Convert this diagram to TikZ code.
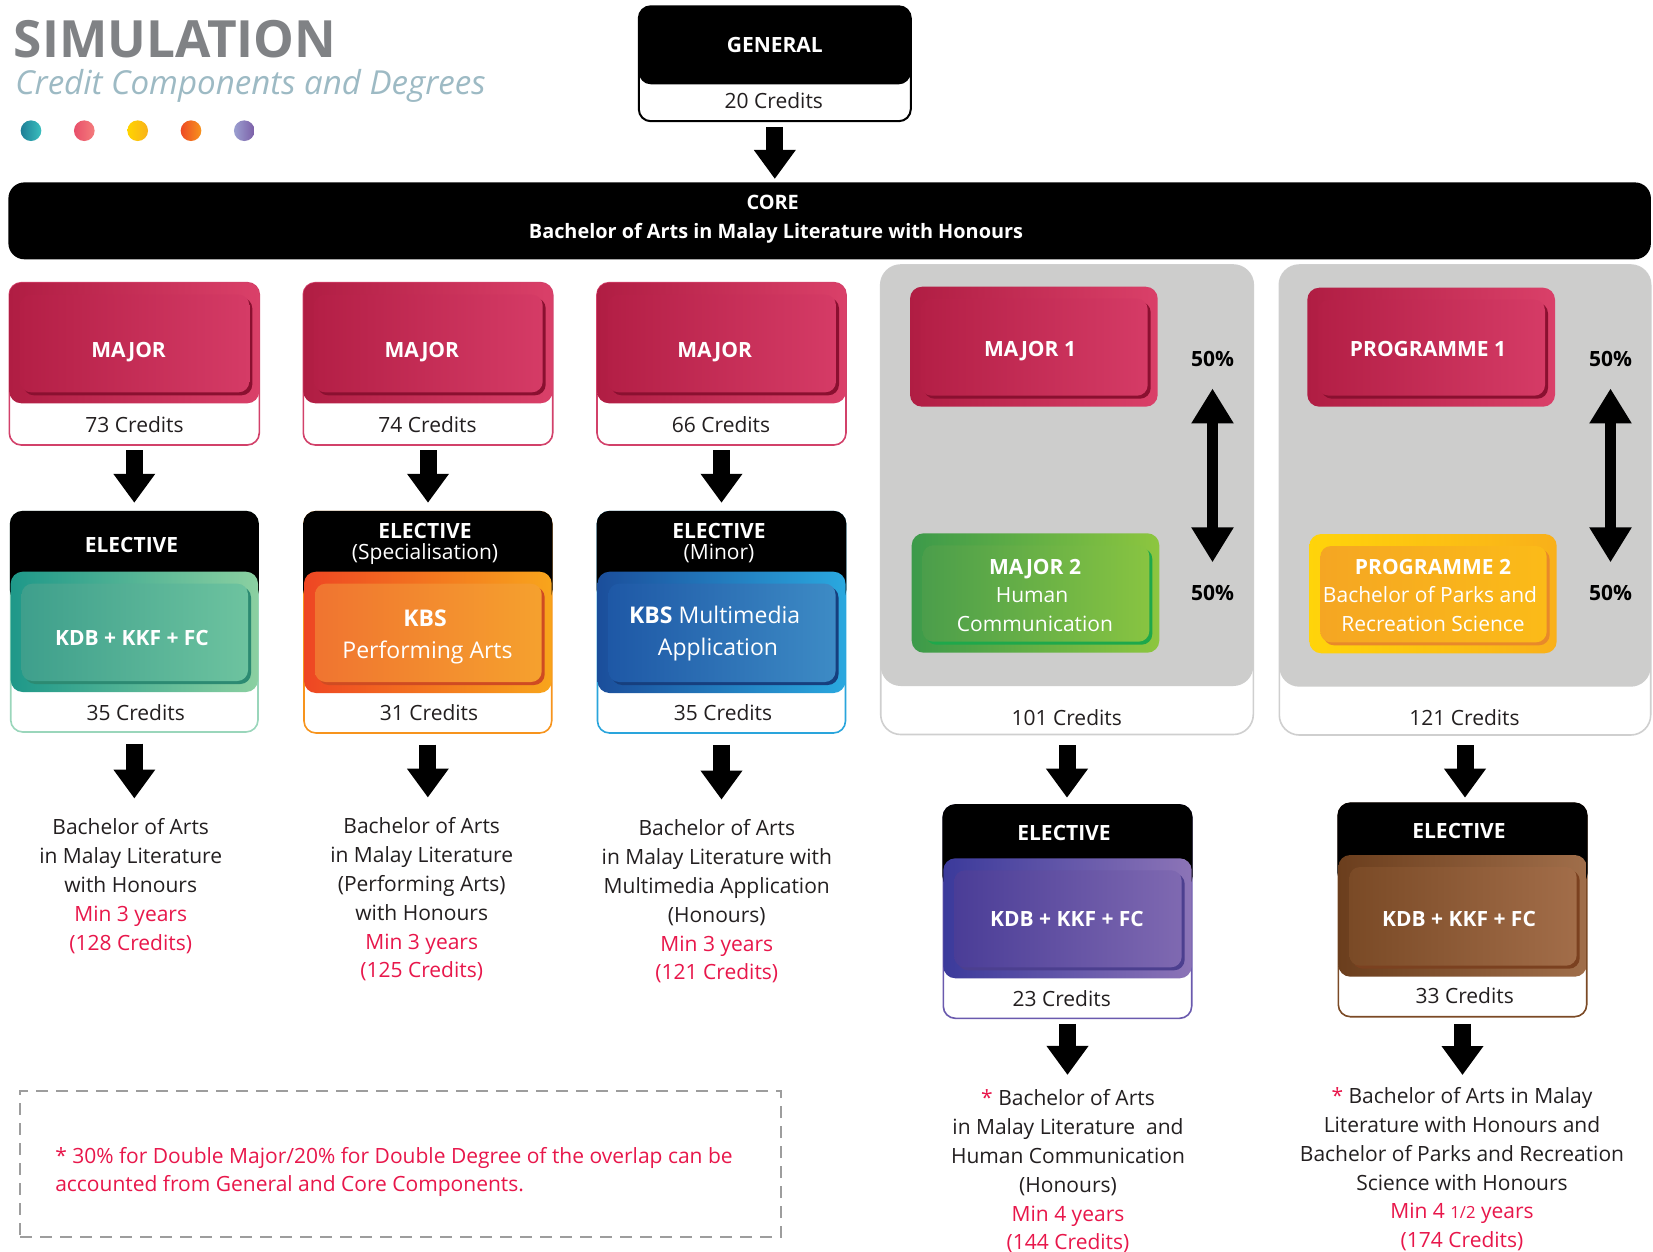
\documentclass[tikz,border=0pt]{standalone}
\usepackage{fontspec}
\setmainfont{Open Sans}
\usetikzlibrary{arrows.meta,fit}
\definecolor{ink}{HTML}{231F20}
\definecolor{accent}{HTML}{E8174B}
\definecolor{titlegray}{HTML}{808285}
\definecolor{subgray}{HTML}{9DBAC4}
\definecolor{grayF}{HTML}{CDCDCC}
\definecolor{grayB}{HTML}{CFCFCF}
\definecolor{noteB}{HTML}{9D9D9D}
% pink
\definecolor{pinkL}{HTML}{B01D43}\definecolor{pinkR}{HTML}{DA4069}
\definecolor{pinkIL}{HTML}{B41F46}\definecolor{pinkIR}{HTML}{D53B66}
\definecolor{pinkS}{HTML}{8A1030}\definecolor{pinkB}{HTML}{D2416A}
% teal
\definecolor{tealL}{HTML}{1E9889}\definecolor{tealR}{HTML}{8BD0A1}
\definecolor{tealIL}{HTML}{3E9F8C}\definecolor{tealIR}{HTML}{6DC39F}
\definecolor{tealS}{HTML}{2C8A72}\definecolor{tealB}{HTML}{9AD6BB}
% orange
\definecolor{orL}{HTML}{EE4623}\definecolor{orR}{HTML}{F8A51C}
\definecolor{orIL}{HTML}{F07430}\definecolor{orIR}{HTML}{F5A12E}
\definecolor{orS}{HTML}{CF4B22}\definecolor{orB}{HTML}{F7941D}
% blue
\definecolor{blL}{HTML}{1B4E9B}\definecolor{blR}{HTML}{2AA8DF}
\definecolor{blIL}{HTML}{1E58A6}\definecolor{blIR}{HTML}{3D8BC5}
\definecolor{blS}{HTML}{163F7E}\definecolor{blB}{HTML}{2AA5DC}
% green
\definecolor{grL}{HTML}{3C9A4A}\definecolor{grR}{HTML}{8DC63F}
\definecolor{grIL}{HTML}{4B9E4B}\definecolor{grIR}{HTML}{88C441}
\definecolor{grS}{HTML}{1EA84B}
% yellow
\definecolor{ylL}{HTML}{FFD40A}\definecolor{ylR}{HTML}{F9B01A}
\definecolor{ylIL}{HTML}{F5A623}\definecolor{ylIR}{HTML}{FBBB18}
\definecolor{ylS}{HTML}{E8892A}
% purple
\definecolor{puL}{HTML}{3B3A9B}\definecolor{puR}{HTML}{8C74B7}
\definecolor{puIL}{HTML}{4A3D97}\definecolor{puIR}{HTML}{7F69B1}
\definecolor{puS}{HTML}{4C3F8F}\definecolor{puB}{HTML}{6A5AAE}
% brown
\definecolor{brL}{HTML}{6B3E1D}\definecolor{brR}{HTML}{A06E4A}
\definecolor{brIL}{HTML}{7A4A26}\definecolor{brIR}{HTML}{A26D49}
\definecolor{brS}{HTML}{7B4120}\definecolor{brB}{HTML}{7B4A26}
% dots
\definecolor{d1L}{HTML}{1E7F96}\definecolor{d1R}{HTML}{3BBFBF}
\definecolor{d2L}{HTML}{E8506A}\definecolor{d2R}{HTML}{F47C7C}
\definecolor{d3L}{HTML}{FFD400}\definecolor{d3R}{HTML}{F9B21A}
\definecolor{d4L}{HTML}{EE4A24}\definecolor{d4R}{HTML}{F7941D}
\definecolor{d5L}{HTML}{9B9FD0}\definecolor{d5R}{HTML}{7B5EA7}

\tikzset{
  lbl/.style={inner sep=0pt, anchor=base, text=ink, font=\fontsize{15.75}{21.3}\selectfont},
  wbold/.style={inner sep=0pt, anchor=base, text=white, font=\bfseries\fontsize{15.75}{21.3}\selectfont},
  wcore/.style={inner sep=0pt, anchor=base, text=white, font=\bfseries\fontsize{14.9}{20}\selectfont},
  wreg/.style={inner sep=0pt, anchor=base, text=white, font=\fontsize{15.75}{21.3}\selectfont},
  wbig/.style={inner sep=0pt, anchor=base, text=white, font=\fontsize{17.25}{21.3}\selectfont},
  wbigb/.style={inner sep=0pt, anchor=base, text=white, font=\bfseries\fontsize{17.25}{21.3}\selectfont},
  pct/.style={inner sep=0pt, anchor=base, text=black, font=\bfseries\fontsize{15.75}{21.3}\selectfont},
  outcome/.style={inner sep=0pt, anchor=north, align=center, text=ink, font=\fontsize{15.75}{21.6}\selectfont},
  bigarrow/.style={line width=12.75pt, -{Triangle[length=21.75pt,width=30pt]}, black},
  dblarrow/.style={line width=8.25pt, {Triangle[length=26.25pt,width=30pt]}-{Triangle[length=26.25pt,width=30pt]}, black},
  area/.style={fit={#1}, inner sep=0pt},
  dot/.style={circle, minimum size=15.5pt, inner sep=0pt},
}
\newcommand\btn[9]{%
  \shade[rounded corners=9pt, left color=#5, right color=#6] (#1,#2) rectangle (#3,#4);
  \fill[rounded corners=8pt, #9] ({#1+11+3},{#2+12+3}) rectangle ({#3-10+3},{#4-11+3});
  \shade[rounded corners=8pt, left color=#7, right color=#8] ({#1+11},{#2+12}) rectangle ({#3-10},{#4-11});
}
\newcommand\majorcol[3]{%
  \draw[rounded corners=9pt, draw=pinkB, line width=1.2pt, fill=white] (#2,282.7) rectangle (#3,445);
  \btn{#2}{282.7}{#3}{403.3}{pinkL}{pinkR}{pinkIL}{pinkIR}{pinkS}
  \coordinate (#1-nw) at (#2,282.7);
  \coordinate (#1-se) at (#3,445);
  \node[area=(#1-nw)(#1-se)] (#1) {};
}
\newcommand\elect[8]{%
  \draw[rounded corners=9pt, draw=#8B, line width=1.2pt, fill=white] (#2,#4) rectangle (#3,#7);
  \draw[rounded corners=9pt, draw=black, fill=black, line width=1.3pt] (#2,#4) rectangle (#3,{#5+30});
  \btn{#2}{#5}{#3}{#6}{#8L}{#8R}{#8IL}{#8IR}{#8S}
  \coordinate (#1-nw) at (#2,#4);
  \coordinate (#1-se) at (#3,#7);
  \node[area=(#1-nw)(#1-se)] (#1) {};
}
\newcommand\grp[5]{%
  \draw[rounded corners=15pt, draw=grayB, line width=1.2pt, fill=white] (#2,265) rectangle (#3,#5);
  \fill[rounded corners=15pt, grayF] (#2,265) rectangle (#3,#4);
  \coordinate (#1-nw) at (#2,265);
  \coordinate (#1-se) at (#3,#5);
  \node[area=(#1-nw)(#1-se)] (#1) {};
}
\newcommand\boxnode[5]{%
  \coordinate (#1-nw) at (#2,#3);
  \coordinate (#1-se) at (#4,#5);
  \node[area=(#1-nw)(#1-se)] (#1) {};
}

\begin{document}
\begin{tikzpicture}[x=0.75pt, y=-0.75pt]
\useasboundingbox (0,0) rectangle (1653,1252);
\fill[white] (0,0) rectangle (1653,1252);

% title
\node[anchor=base west, inner sep=0pt, text=titlegray, font=\bfseries\fontsize{38.5}{44}\selectfont] (title) at (13.5,57.3) {SIMULATION};
\node[anchor=base west, inner sep=0pt, text=subgray, font=\itshape\fontsize{24.8}{30}\selectfont] (subtitle) at (15,95) {Credit Components and Degrees};
\node[dot, left color=d1L, right color=d1R] (dot1) at (31,130.7) {};
\node[dot, left color=d2L, right color=d2R] (dot2) at (84.3,130.7) {};
\node[dot, left color=d3L, right color=d3R] (dot3) at (137.7,130.7) {};
\node[dot, left color=d4L, right color=d4R] (dot4) at (191,130.7) {};
\node[dot, left color=d5L, right color=d5R] (dot5) at (244.3,130.7) {};

% general
\draw[rounded corners=9pt, line width=1.5pt, fill=white] (638.8,6.3) rectangle (910.8,121.2);
\fill[rounded corners=9pt, black] (638.8,6.3) rectangle (910.8,84.3);
\boxnode{gen}{638.8}{6.3}{910.8}{121.2}
\node[wbold] (genT) at (774.8,53) {GENERAL};
\node[lbl] (genC) at (773.8,108.5) {20 Credits};

% core
\fill[rounded corners=12pt, black] (8.4,182.4) rectangle (1650.9,259.3);
\boxnode{core}{8.4}{182.4}{1650.9}{259.3}
\node[wcore] (coreT) at (772.7,209.5) {CORE};
\node[wcore] (coreT2) at (776,238.5) {Bachelor of Arts in Malay Literature with Honours};
\draw[bigarrow, shorten <=4pt, shorten >=2.4pt] (gen.south) -- (gen.south |- core.north);

% columns 1-3 majors
\majorcol{maj1}{9.3}{259.3}
\majorcol{maj2}{303.3}{552.7}
\majorcol{maj3}{597}{846}
\node[wbold] (maj1T) at (128.6,357.5) {MAJOR};
\node[wbold] (maj2T) at (421.8,357.5) {MAJOR};
\node[wbold] (maj3T) at (714.7,357.5) {MAJOR};
\node[lbl] (maj1C) at (134.5,432) {73 Credits};
\node[lbl] (maj2C) at (427.5,432) {74 Credits};
\node[lbl] (maj3C) at (721,432) {66 Credits};

% electives 1-3
\elect{el1}{10.7}{258}{511.7}{571.7}{692}{732}{teal}
\elect{el2}{304}{551.7}{511.7}{571.7}{693}{733}{or}
\elect{el3}{597.5}{845.5}{511.7}{571.7}{693}{733}{bl}
\node[wbold] (el1T) at (131.5,552.5) {ELECTIVE};
\node[wbold] (el1K) at (132,645.5) {KDB + KKF + FC};
\node[lbl] (el1C) at (135.7,720) {35 Credits};
\node[wbold] (el2T) at (425,538) {ELECTIVE};
\node[wreg] (el2S) at (425,559.5) {(Specialisation)};
\node[wbigb] (el2K) at (425,626) {KBS};
\node[wbig] (el2P) at (427.5,658) {Performing Arts};
\node[lbl] (el2C) at (429,720) {31 Credits};
\node[wbold] (el3T) at (719,538) {ELECTIVE};
\node[wreg] (el3S) at (719,559.5) {(Minor)};
\node[wbig] (el3K) at (714.7,623) {\textbf{KBS} Multimedia};
\node[wbig] (el3P) at (718,655) {Application};
\node[lbl] (el3C) at (723,720) {35 Credits};

\draw[bigarrow, shorten <=3.75pt, shorten >=6.5pt] (maj1.south) -- (maj1.south |- el1.north);
\draw[bigarrow, shorten <=3.75pt, shorten >=6.5pt] (maj2.south) -- (maj2.south |- el2.north);
\draw[bigarrow, shorten <=3.75pt, shorten >=6.5pt] (maj3.south) -- (maj3.south |- el3.north);

% outcomes 1-3
\node[outcome] (out1) at (130.7,818.5) {Bachelor of Arts\\in Malay Literature\\with Honours\\\textcolor{accent}{Min 3 years}\\\textcolor{accent}{(128 Credits)}};
\node[outcome] (out2) at (421.7,817.5) {Bachelor of Arts\\in Malay Literature\\(Performing Arts)\\with Honours\\\textcolor{accent}{Min 3 years}\\\textcolor{accent}{(125 Credits)}};
\node[outcome] (out3) at (716.8,819.6) {Bachelor of Arts\\in Malay Literature with\\Multimedia Application\\(Honours)\\\textcolor{accent}{Min 3 years}\\\textcolor{accent}{(121 Credits)}};
\draw[bigarrow, shorten <=8.6pt, shorten >=15pt] (el1.south) -- (el1.south |- out1.north);
\draw[bigarrow, shorten <=8.6pt, shorten >=15pt] (el2.south) -- (el2.south |- out2.north);
\draw[bigarrow, shorten <=8.6pt, shorten >=15pt] (el3.south) -- (el3.south |- out3.north);

% group 4
\grp{g4}{880.7}{1253.3}{686}{734.5}
\btn{910}{286.7}{1157.7}{406.7}{pinkL}{pinkR}{pinkIL}{pinkIR}{pinkS}
\boxnode{m41}{910}{286.7}{1157.7}{406.7}
\btn{911.7}{533.3}{1159.3}{652.7}{grL}{grR}{grIL}{grIR}{grS}
\boxnode{m42}{911.7}{533.3}{1159.3}{652.7}
\node[wbold] (m41T) at (1030,356.5) {MAJOR 1};
\node[wbold] (m42T) at (1035,574) {MAJOR 2};
\node[wreg] (m42a) at (1032,602) {Human};
\node[wreg] (m42b) at (1035,631) {Communication};
\node[pct] (p4a) at (1212.5,366) {50\%};
\node[pct] (p4b) at (1212.5,600.5) {50\%};
\draw[dblarrow, shorten <=16.5pt, shorten >=17pt] (p4a.south) -- (p4b.north);
\node[lbl] (g4C) at (1066.7,725.5) {101 Credits};

% group 5
\grp{g5}{1279.3}{1650.7}{686.7}{735}
\btn{1307.3}{287.7}{1555}{406.7}{pinkL}{pinkR}{pinkIL}{pinkIR}{pinkS}
\boxnode{p51}{1307.3}{287.7}{1555}{406.7}
\btn{1309.3}{534}{1556.7}{653.3}{ylL}{ylR}{ylIL}{ylIR}{ylS}
\boxnode{p52}{1309.3}{534}{1556.7}{653.3}
\node[wbold] (p51T) at (1428,356.5) {PROGRAMME 1};
\node[wbold] (p52T) at (1433,574) {PROGRAMME 2};
\node[wreg] (p52a) at (1430,602.3) {Bachelor of Parks and};
\node[wreg] (p52b) at (1433,631) {Recreation Science};
\node[pct] (p5a) at (1610.5,366) {50\%};
\node[pct] (p5b) at (1610.5,600.5) {50\%};
\draw[dblarrow, shorten <=16.5pt, shorten >=17pt] (p5a.south) -- (p5b.north);
\node[lbl] (g5C) at (1464.5,725.5) {121 Credits};

% electives 4-5
\elect{el4}{943.3}{1191.7}{805}{858.3}{978.3}{1018.3}{pu}
\elect{el5}{1338.3}{1586.7}{803.3}{855}{976.7}{1016.7}{br}
\node[wbold] (el4T) at (1064,840) {ELECTIVE};
\node[wbold] (el4K) at (1067,926.7) {KDB + KKF + FC};
\node[lbl] (el4C) at (1061.7,1006) {23 Credits};
\node[wbold] (el5T) at (1459,838.3) {ELECTIVE};
\node[wbold] (el5K) at (1459,926.7) {KDB + KKF + FC};
\node[lbl] (el5C) at (1464.7,1003) {33 Credits};
\draw[bigarrow, shorten <=7.9pt, shorten >=5.25pt] (g4.south) -- (g4.south |- el4.north);
\draw[bigarrow, shorten <=7.5pt, shorten >=4pt] (g5.south) -- (g5.south |- el5.north);

% outcomes 4-5
\node[outcome] (out4) at (1068,1089.5) {\textcolor{accent}{*} Bachelor of Arts\\in Malay Literature\ \ and\\Human Communication\\(Honours)\\\textcolor{accent}{Min 4 years}\\\textcolor{accent}{(144 Credits)}};
\node[outcome] (out5) at (1462,1087.3) {\textcolor{accent}{*} Bachelor of Arts in Malay\\Literature with Honours and\\Bachelor of Parks and Recreation\\Science with Honours\\\textcolor{accent}{Min 4 {\fontsize{12.5}{15}\selectfont 1/2} years}\\\textcolor{accent}{(174 Credits)}};
\draw[bigarrow, shorten <=4pt, shorten >=10.9pt] (el4.south) -- (el4.south |- out4.north);
\draw[bigarrow, shorten <=5.2pt, shorten >=9.2pt] (el5.south) -- (el5.south |- out5.north);

% note
\coordinate (note-nw) at (20,1091);
\coordinate (note-se) at (781,1237);
\node[area=(note-nw)(note-se), draw=noteB, line width=1.1pt, dash pattern=on 9pt off 6pt] (note) {};
\node[inner sep=0pt, anchor=north west, align=left, text=accent, font=\fontsize{15.75}{20.6}\selectfont] (noteT) at (55,1147.5) {* 30\% for Double Major/20\% for Double Degree of the overlap can be\\accounted from General and Core Components.};
\end{tikzpicture}
\end{document}
